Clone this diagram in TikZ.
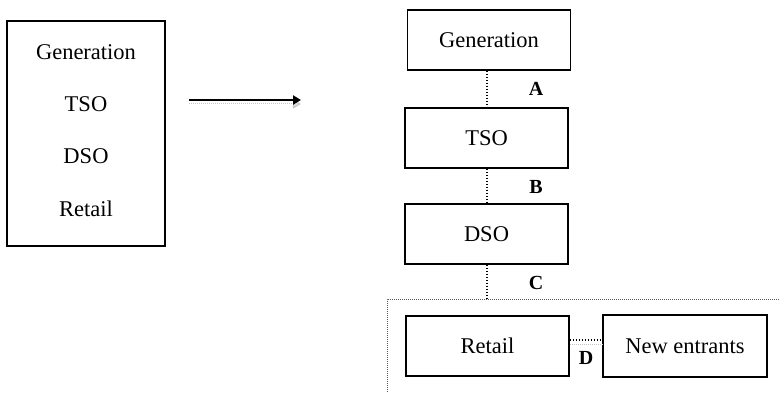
\documentclass[tikz,border=0pt]{standalone}
\usepackage{fontspec}
\setmainfont{Liberation Serif}
\usetikzlibrary{arrows.meta}
\begin{document}
\begin{tikzpicture}[x=1pt,y=-1pt,
  every node/.style={font=\fontsize{22.5}{27}\selectfont},
  unit/.style={draw,line width=1.3pt,minimum width=163pt,minimum height=60pt,inner sep=0pt},
  link/.style={line width=1.3pt,dash pattern=on 1.3pt off 1.7pt},
  ghost/.style={gray!45,line width=1pt,dash pattern=on 1pt off 1pt},
  tag/.style={font=\fontsize{20}{24}\selectfont\bfseries}]
\useasboundingbox (0,0) rectangle (779,393);

% integrated utility
\node[draw,line width=1.3pt,minimum width=158pt,minimum height=225pt,inner sep=0pt] (whole) at (86,133.5) {};
\node (g0) at (86,52) {Generation};
\node (t0) at (86,104) {TSO};
\node (d0) at (86,156) {DSO};
\node (r0) at (86,209) {Retail};

% unbundling arrow
\coordinate (a1) at (189,100);
\coordinate (a2) at (301,100);
\coordinate (b1) at (189,104);
\coordinate (b2) at (301,104);
\draw[ghost,-{Triangle[length=8pt,width=9pt,fill=gray!30]}] (b1) -- (b2);
\draw[line width=2pt,-{Triangle[length=8pt,width=9pt]}] (a1) -- (a2);

% unbundled chain
\node[unit] (gen) at (489,40) {Generation};
\node[unit] (tso) at (486.5,138) {TSO};
\node[unit] (dso) at (486.5,234) {DSO};
\node[unit] (ret) at (487.5,346) {Retail};
\node[unit,minimum width=164pt,minimum height=62pt] (new) at (685,346) {New entrants};

% open retail market
\coordinate (fr) at (779,299);
\coordinate (fl) at (387,299);
\coordinate (fb) at (387,393);
\draw[gray!70!black,line width=0.8pt,dash pattern=on 0.8pt off 1.2pt] (fr) -- (fl) -- (fb);

\draw[link] (gen.south -| 487,0) -- (tso.north -| 487,0);
\draw[link] (tso.south -| 487,0) -- (dso.north -| 487,0);
\coordinate (c1) at (487,299);
\draw[link] (dso.south -| 487,0) -- (c1);

\draw[link] (ret.east |- 0,340) -- (new.west |- 0,340);
\draw[ghost] (ret.east |- 0,344) -- (new.west |- 0,344);

\node[tag] (la) at (536,89) {A};
\node[tag] (lb) at (536,187) {B};
\node[tag] (lc) at (536,283) {C};
\node[tag] (ld) at (586,358) {D};
\end{tikzpicture}
\end{document}
